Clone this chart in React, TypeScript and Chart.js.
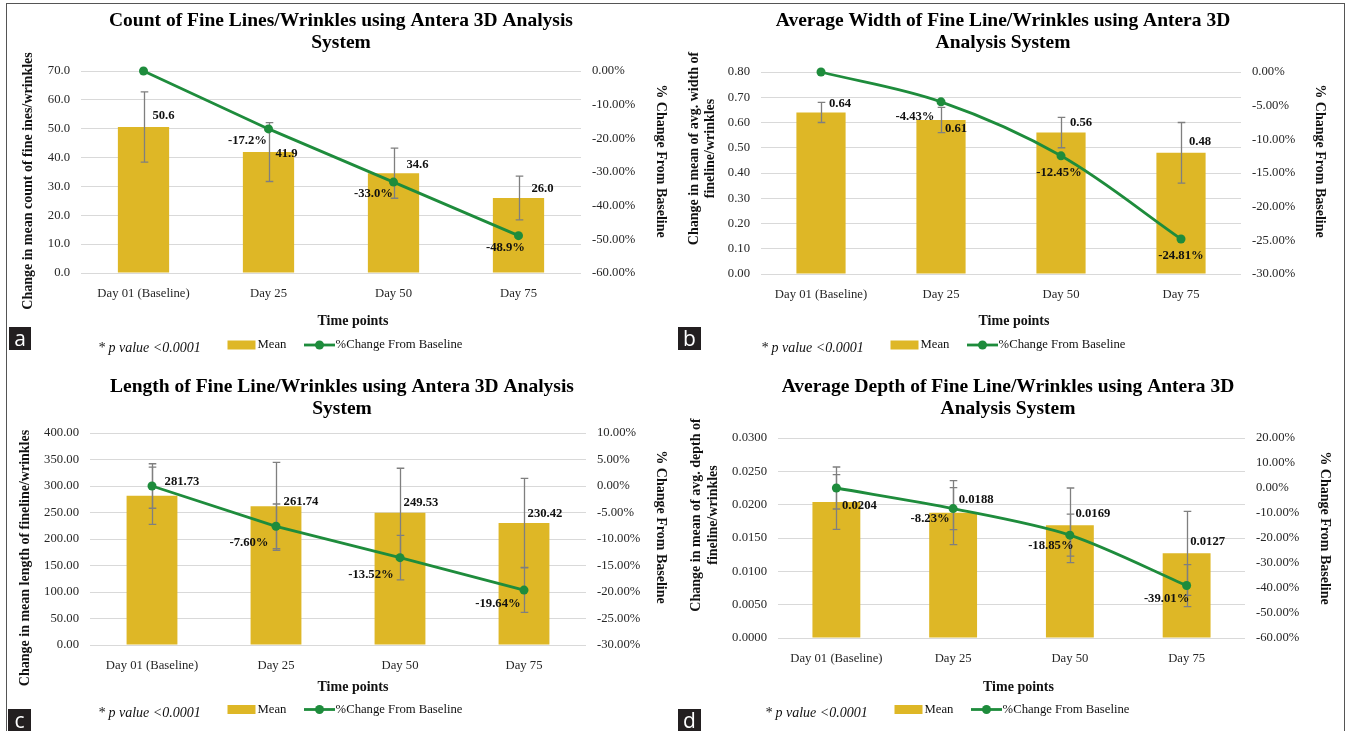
import React, { useEffect, useRef } from 'react';
import { Chart, registerables } from 'chart.js';
Chart.register(...registerables);

// ---------- shared ----------
const CATEGORIES = ['Day 01 (Baseline)', 'Day 25', 'Day 50', 'Day 75'];
const X_TITLE = 'Time points';
const P_NOTE = '* p value <0.0001';
const BAR_LEGEND = 'Mean';
const LINE_LEGEND = '%Change From Baseline';
const RIGHT_TITLE = '% Change From Baseline';

// ---------- panel a ----------
const A_TITLE = ['Count of Fine Lines/Wrinkles using Antera 3D Analysis', 'System'];
const A_LEFT_TITLE = ['Change in mean count of fine ines/wrinkles'];
const A_MEAN = [50.6, 41.9, 34.6, 26.0];
const A_MEAN_ERR = [12.2, 10.2, 8.7, 7.6];
const A_PCT = [0, -17.2, -33.0, -48.9];
const A_LEFT_TICKS = [0, 10, 20, 30, 40, 50, 60, 70];
const A_RIGHT_TICKS = [-60, -50, -40, -30, -20, -10, 0];

// ---------- panel b ----------
const B_TITLE = ['Average Width of Fine Line/Wrinkles using Antera 3D', 'Analysis System'];
const B_LEFT_TITLE = ['Change in mean of avg. width of', 'fineline/wrinkles'];
const B_MEAN = [0.64, 0.61, 0.56, 0.48];
const B_MEAN_ERR = [0.04, 0.05, 0.06, 0.12];
const B_PCT = [0, -4.43, -12.45, -24.81];
const B_LEFT_TICKS = [0, 0.1, 0.2, 0.3, 0.4, 0.5, 0.6, 0.7, 0.8];
const B_RIGHT_TICKS = [-30, -25, -20, -15, -10, -5, 0];

// ---------- panel c ----------
const C_TITLE = ['Length of Fine Line/Wrinkles using Antera 3D Analysis', 'System'];
const C_LEFT_TITLE = ['Change in mean length of fineline/wrinkles'];
const C_MEAN = [281.73, 261.74, 249.53, 230.42];
const C_MEAN_ERR = [54, 83, 84, 84];
const C_PCT = [0, -7.6, -13.52, -19.64];
const C_PCT_ERR = [4.2, 4.2, 4.2, 4.2];
const C_LEFT_TICKS = [0, 50, 100, 150, 200, 250, 300, 350, 400];
const C_RIGHT_TICKS = [-30, -25, -20, -15, -10, -5, 0, 5, 10];

// ---------- panel d ----------
const D_TITLE = ['Average Depth of Fine Line/Wrinkles using Antera 3D', 'Analysis System'];
const D_LEFT_TITLE = ['Change in mean of avg. depth of', 'fineline/wrinkles'];
const D_MEAN = [0.0204, 0.0188, 0.0169, 0.0127];
const D_MEAN_ERR = [0.0041, 0.0048, 0.0056, 0.0063];
const D_PCT = [0, -8.23, -18.85, -39.01];
const D_PCT_ERR = [8.4, 8.4, 8.4, 8.4];
const D_LEFT_TICKS = [0, 0.005, 0.01, 0.015, 0.02, 0.025, 0.03];
const D_RIGHT_TICKS = [-60, -50, -40, -30, -20, -10, 0, 10, 20];

// ---------- styles ----------
const SERIF = "'Liberation Serif', 'Times New Roman', serif";
const GOLD = '#DEB726';
const GREEN = '#1E8C3C';
const GRID = '#D9D9D9';
const TICK_COLOR = '#262626';
const ERR_COLOR = '#7F7F7F';
const TICK_SIZE = 12.7;
const TITLE_SIZE = 19.5;
const TITLE_LH = 1.128;

const PANELS = [
  {
    key: 'a', x: 0, y: 0, w: 673, h: 365,
    title: A_TITLE, leftTitle: A_LEFT_TITLE,
    mean: A_MEAN, meanErr: A_MEAN_ERR, pct: A_PCT, pctErr: null,
    leftTicks: A_LEFT_TICKS, rightTicks: A_RIGHT_TICKS,
    leftDec: 1, meanDec: 1, pctDec: 1, smooth: 0,
    area: { l: 81, r: 581, t: 71, b: 273 },
    titlePadTop: 9.5, titleShift: 4.5,
    leftTitleX: [28], leftTitleY: 181, rightTitleX: 661, rightTitleY: 161,
    xTitleX: 353, xTitleY: 321.5, legendX: 98, legendY: 345, pY: 348.5,
    barOff: [[20, -11], [18, 2], [24, -8], [24, -9]],
    lineOff: [null, [-21, 12], [-20, 12], [-13, 12]],
  },
  {
    key: 'b', x: 673, y: 0, w: 673, h: 365,
    title: B_TITLE, leftTitle: B_LEFT_TITLE,
    mean: B_MEAN, meanErr: B_MEAN_ERR, pct: B_PCT, pctErr: null,
    leftTicks: B_LEFT_TICKS, rightTicks: B_RIGHT_TICKS,
    leftDec: 2, meanDec: 2, pctDec: 2, smooth: 0.35,
    area: { l: 88, r: 568, t: 72, b: 274 },
    titlePadTop: 9.5, titleShift: -6.5,
    leftTitleX: [21, 37], leftTitleY: 148.5, rightTitleX: 647, rightTitleY: 161,
    xTitleX: 341, xTitleY: 321.5, legendX: 88, legendY: 345, pY: 348.5,
    barOff: [[19, -9], [15, 9], [20, -10], [19, -11]],
    lineOff: [null, [-26, 15], [-2, 17], [0, 17]],
  },
  {
    key: 'c', x: 0, y: 365, w: 673, h: 366,
    title: C_TITLE, leftTitle: C_LEFT_TITLE,
    mean: C_MEAN, meanErr: C_MEAN_ERR, pct: C_PCT, pctErr: C_PCT_ERR,
    leftTicks: C_LEFT_TICKS, rightTicks: C_RIGHT_TICKS,
    leftDec: 2, meanDec: 2, pctDec: 2, smooth: 0,
    area: { l: 90, r: 586, t: 68, b: 280 },
    titlePadTop: 10.5, titleShift: 5.5,
    leftTitleX: [25], leftTitleY: 193, rightTitleX: 661, rightTitleY: 162,
    xTitleX: 353, xTitleY: 322, legendX: 98, legendY: 344.5, pY: 348.5,
    barOff: [[30, -14], [25, -5], [21, -10], [21, -9]],
    lineOff: [null, [-27, 16], [-29, 17], [-26, 14]],
  },
  {
    key: 'd', x: 673, y: 365, w: 673, h: 366,
    title: D_TITLE, leftTitle: D_LEFT_TITLE,
    mean: D_MEAN, meanErr: D_MEAN_ERR, pct: D_PCT, pctErr: D_PCT_ERR,
    leftTicks: D_LEFT_TICKS, rightTicks: D_RIGHT_TICKS,
    leftDec: 4, meanDec: 4, pctDec: 2, smooth: 0.3,
    area: { l: 105, r: 572, t: 73, b: 273 },
    titlePadTop: 10.5, titleShift: -1.5,
    leftTitleX: [23.5, 40], leftTitleY: 150, rightTitleX: 652, rightTitleY: 163,
    xTitleX: 345.5, xTitleY: 322, legendX: 92, legendY: 344.5, pY: 348.5,
    barOff: [[23, 4], [23, -13], [23, -12], [21, -12]],
    lineOff: [null, [-23, 10], [-19, 11], [-20, 13]],
  },
];

function makeDeco(cfg: any) {
  return {
    id: 'deco_' + cfg.key,
    afterDatasetDraw(chart: any, args: any) {
      if (args.index !== 0) return;
      const ctx = chart.ctx;
      const barMeta = chart.getDatasetMeta(0);
      const lineMeta = chart.getDatasetMeta(1);
      const yS = chart.scales.y;
      const y1S = chart.scales.y1;
      const CAP = 3.8;
      ctx.save();
      ctx.strokeStyle = ERR_COLOR;
      ctx.lineWidth = 1.3;
      const drawErr = (x: number, hi: number, lo: number, scale: any) => {
        const a = scale.getPixelForValue(hi);
        const b = scale.getPixelForValue(lo);
        ctx.beginPath();
        ctx.moveTo(x, a); ctx.lineTo(x, b);
        ctx.moveTo(x - CAP, a); ctx.lineTo(x + CAP, a);
        ctx.moveTo(x - CAP, b); ctx.lineTo(x + CAP, b);
        ctx.stroke();
      };
      cfg.mean.forEach((m: number, i: number) => {
        const el = barMeta.data[i];
        drawErr(Math.round(el.x) + 0.5, m + cfg.meanErr[i], m - cfg.meanErr[i], yS);
      });
      if (cfg.pctErr) {
        cfg.pct.forEach((p: number, i: number) => {
          const el = lineMeta.data[i];
          drawErr(Math.round(el.x) + 0.5, p + cfg.pctErr[i], p - cfg.pctErr[i], y1S);
        });
      }
      ctx.restore();
    },
    afterDatasetsDraw(chart: any) {
      const ctx = chart.ctx;
      const barMeta = chart.getDatasetMeta(0);
      const lineMeta = chart.getDatasetMeta(1);
      ctx.save();
      ctx.font = `bold ${TICK_SIZE}px ${SERIF}`;
      ctx.fillStyle = '#111111';
      ctx.textAlign = 'center';
      ctx.textBaseline = 'middle';
      cfg.mean.forEach((m: number, i: number) => {
        const el = barMeta.data[i];
        const [dx, dy] = cfg.barOff[i];
        ctx.fillText(m.toFixed(cfg.meanDec), el.x + dx, el.y + dy);
      });
      cfg.pct.forEach((p: number, i: number) => {
        const off = cfg.lineOff[i];
        if (!off) return;
        const el = lineMeta.data[i];
        ctx.fillText(p.toFixed(cfg.pctDec) + '%', el.x + off[0], el.y + off[1]);
      });
      ctx.restore();
    },
    afterDraw(chart: any) {
      const ctx = chart.ctx;
      ctx.save();
      ctx.fillStyle = '#111111';
      ctx.textBaseline = 'middle';
      ctx.textAlign = 'center';
      // left axis title
      ctx.font = `bold 14px ${SERIF}`;
      cfg.leftTitle.forEach((line: string, i: number) => {
        ctx.save();
        ctx.translate(cfg.leftTitleX[i], cfg.leftTitleY);
        ctx.rotate(-Math.PI / 2);
        ctx.fillText(line, 0, 0);
        ctx.restore();
      });
      // right axis title
      ctx.save();
      ctx.translate(cfg.rightTitleX, cfg.rightTitleY);
      ctx.rotate(Math.PI / 2);
      ctx.fillText(RIGHT_TITLE, 0, 0);
      ctx.restore();
      // x axis title
      ctx.fillText(X_TITLE, cfg.xTitleX, cfg.xTitleY);
      // footer: p value note
      ctx.textAlign = 'left';
      ctx.font = `italic 14px ${SERIF}`;
      ctx.fillText(P_NOTE, cfg.legendX, cfg.pY);
      // legend
      const lx = cfg.legendX;
      const ly = cfg.legendY;
      ctx.fillStyle = GOLD;
      ctx.fillRect(lx + 129.5, ly - 4.5, 28, 9);
      ctx.fillStyle = '#111111';
      ctx.font = `${TICK_SIZE}px ${SERIF}`;
      ctx.fillText(BAR_LEGEND, lx + 159.5, ly);
      ctx.strokeStyle = GREEN;
      ctx.lineWidth = 2.8;
      ctx.beginPath();
      ctx.moveTo(lx + 206, ly);
      ctx.lineTo(lx + 237, ly);
      ctx.stroke();
      ctx.fillStyle = GREEN;
      ctx.beginPath();
      ctx.arc(lx + 221.5, ly, 4.5, 0, Math.PI * 2);
      ctx.fill();
      ctx.fillStyle = '#111111';
      ctx.fillText(LINE_LEGEND, lx + 237.6, ly);
      ctx.restore();
    },
  };
}

function makeChart(canvas: HTMLCanvasElement, cfg: any) {
  const padL = Math.max(0, cfg.titleShift * 2);
  const padR = Math.max(0, -cfg.titleShift * 2);
  const titleLinePx = TITLE_SIZE * TITLE_LH;
  const titlePadBottom = cfg.area.t - cfg.titlePadTop - cfg.title.length * titleLinePx;
  const tickFont = { family: SERIF, size: TICK_SIZE };
  const lt = cfg.leftTicks;
  const rt = cfg.rightTicks;
  return new Chart(canvas, {
    type: 'bar',
    data: {
      labels: CATEGORIES,
      datasets: [
        {
          type: 'bar',
          label: BAR_LEGEND,
          data: cfg.mean,
          backgroundColor: GOLD,
          borderWidth: 0,
          yAxisID: 'y',
          order: 1,
          barPercentage: 0.41,
          categoryPercentage: 1,
        },
        {
          type: 'line',
          label: LINE_LEGEND,
          data: cfg.pct,
          yAxisID: 'y1',
          borderColor: GREEN,
          backgroundColor: GREEN,
          borderWidth: 2.8,
          pointRadius: 4.5,
          pointBackgroundColor: GREEN,
          pointBorderColor: GREEN,
          pointBorderWidth: 0,
          tension: cfg.smooth,
          clip: false,
          order: 0,
        },
      ],
    } as any,
    options: {
      responsive: false,
      animation: false,
      devicePixelRatio: 1,
      events: [],
      layout: { padding: { left: padL, right: padR, top: 0, bottom: 0 } },
      plugins: {
        legend: { display: false },
        tooltip: { enabled: false },
        title: {
          display: true,
          text: cfg.title,
          color: '#000000',
          font: { family: SERIF, size: TITLE_SIZE, weight: 'bold', lineHeight: TITLE_LH },
          padding: { top: cfg.titlePadTop, bottom: titlePadBottom },
        },
      },
      scales: {
        x: {
          grid: { display: false },
          border: { display: false },
          ticks: { font: tickFont, color: TICK_COLOR, padding: 5, autoSkip: false, maxRotation: 0 },
          afterFit: (s: any) => { s.height = cfg.h - cfg.area.b; },
        },
        y: {
          type: 'linear',
          position: 'left',
          min: lt[0],
          max: lt[lt.length - 1],
          grid: { color: GRID, lineWidth: 1, drawTicks: false },
          border: { display: false },
          ticks: {
            font: tickFont, color: TICK_COLOR, padding: 11,
            callback: (v: any) => Number(v).toFixed(cfg.leftDec),
          },
          afterBuildTicks: (s: any) => { s.ticks = lt.map((v: number) => ({ value: v })); },
          afterFit: (s: any) => { s.width = cfg.area.l - padL; },
        },
        y1: {
          type: 'linear',
          position: 'right',
          min: rt[0],
          max: rt[rt.length - 1],
          grid: { display: false, drawTicks: false },
          border: { display: false },
          ticks: {
            font: tickFont, color: TICK_COLOR, padding: 11,
            callback: (v: any) => Number(v).toFixed(2) + '%',
          },
          afterBuildTicks: (s: any) => { s.ticks = rt.map((v: number) => ({ value: v })); },
          afterFit: (s: any) => { s.width = cfg.w - cfg.area.r - padR; },
        },
      },
    } as any,
    plugins: [makeDeco(cfg)],
  });
}

function Panel({ cfg }: { cfg: any }) {
  const ref = useRef<HTMLCanvasElement | null>(null);
  useEffect(() => {
    if (!ref.current) return;
    const chart = makeChart(ref.current, cfg);
    return () => chart.destroy();
  }, [cfg]);
  return (
    <canvas
      ref={ref}
      width={cfg.w}
      height={cfg.h}
      style={{ position: 'absolute', left: cfg.x, top: cfg.y, width: cfg.w, height: cfg.h }}
    />
  );
}

const LETTERS = [
  { t: 'a', x: 9, y: 327, w: 22, h: 23 },
  { t: 'b', x: 678, y: 327, w: 23, h: 23 },
  { t: 'c', x: 8, y: 709, w: 23, h: 22 },
  { t: 'd', x: 678, y: 709, w: 23, h: 22 },
];

export default function App() {
  return (
    <div style={{ position: 'absolute', left: 0, top: 0, width: 1346, height: 731, overflow: 'hidden', background: '#ffffff' }}>
      <div
        style={{
          position: 'absolute', left: 6, top: 3, width: 1339, height: 800,
          border: '1.5px solid #555555', boxSizing: 'border-box',
        }}
      />
      {PANELS.map((p) => (
        <Panel key={p.key} cfg={p} />
      ))}
      {LETTERS.map((l) => (
        <div
          key={l.t}
          style={{
            position: 'absolute', left: l.x, top: l.y, width: l.w, height: l.h,
            background: '#231F20', color: '#ffffff', fontFamily: "'Open Sans', 'Noto Sans', sans-serif",
            fontSize: 21, lineHeight: l.h + 'px', textAlign: 'center',
          }}
        >
          {l.t}
        </div>
      ))}
    </div>
  );
}
